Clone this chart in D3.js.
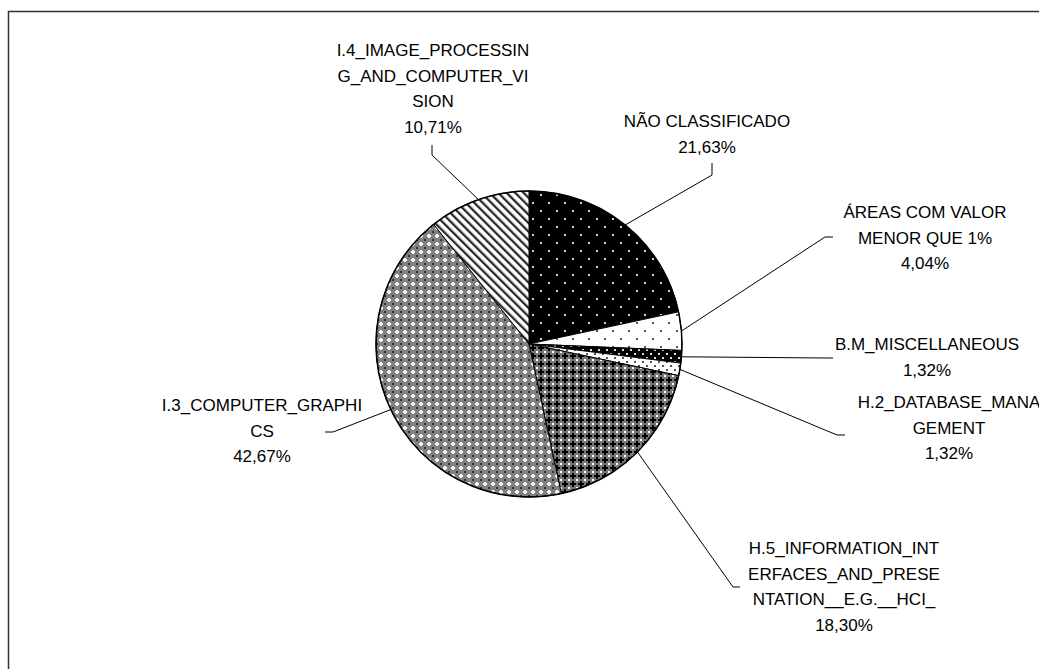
<!DOCTYPE html>
<html>
<head>
<meta charset="utf-8">
<script src="https://cdn.jsdelivr.net/npm/d3@7"></script>
<style>
  html, body { margin: 0; padding: 0; background: #fff; }
  svg { display: block; }
  text { font-family: "Liberation Sans", Arial, sans-serif; font-size: 17px; fill: #000; }
</style>
</head>
<body>
<svg id="chart" width="1039" height="669"></svg>
<script>
// ---- data ----
const categories = [
  "NÃO CLASSIFICADO",
  "ÁREAS COM VALOR MENOR QUE 1%",
  "B.M_MISCELLANEOUS",
  "H.2_DATABASE_MANAGEMENT",
  "H.5_INFORMATION_INTERFACES_AND_PRESENTATION__E.G.__HCI_",
  "I.3_COMPUTER_GRAPHICS",
  "I.4_IMAGE_PROCESSING_AND_COMPUTER_VISION"
];
const values = [21.63, 4.04, 1.32, 1.32, 18.30, 42.67, 10.71];
const valueLabels = ["21,63%", "4,04%", "1,32%", "1,32%", "18,30%", "42,67%", "10,71%"];
const labelLines = [
  ["NÃO CLASSIFICADO"],
  ["ÁREAS COM VALOR", "MENOR QUE 1%"],
  ["B.M_MISCELLANEOUS"],
  ["H.2_DATABASE_MANA", "GEMENT"],
  ["H.5_INFORMATION_INT", "ERFACES_AND_PRESE", "NTATION__E.G.__HCI_"],
  ["I.3_COMPUTER_GRAPHI", "CS"],
  ["I.4_IMAGE_PROCESSIN", "G_AND_COMPUTER_VI", "SION"]
];

// ---- layout (positions/styles) ----
const cx = 529, cy = 344, R = 153;
const lineH = 25.6;
const labelLayout = [
  { x: 707, y: 127, elbow: [712, 175], end: [712, 163] },
  { x: 925, y: 218, elbow: [825, 237], end: [833, 237] },
  { x: 927, y: 350, elbow: [825, 358], end: [833, 358] },
  { x: 949, y: 408, elbow: [837, 435], end: [845, 435] },
  { x: 844, y: 554, elbow: [733, 587], end: [740, 587] },
  { x: 262, y: 411, elbow: [333, 432], end: [325, 432] },
  { x: 433, y: 56,  elbow: [432, 155], end: [432, 145] }
];
const fills = ["url(#pNao)", "url(#pAreas)", "url(#pBM)", "url(#pH2)", "url(#pH5)", "url(#pI3)", "url(#pI4)"];

const svg = d3.select("#chart");

// ---- patterns ----
const defs = svg.append("defs");
function pat(id, w, h, transform) {
  const p = defs.append("pattern").attr("id", id).attr("patternUnits", "userSpaceOnUse")
    .attr("width", w).attr("height", h);
  if (transform) p.attr("patternTransform", transform);
  return p;
}
function px(p, x, y, w, h, c) {
  p.append("rect").attr("x", x).attr("y", y).attr("width", w).attr("height", h).attr("fill", c);
}
let p = pat("pNao", 16, 16);
px(p, 0, 0, 16, 16, "#000"); px(p, 3, 2, 2, 2, "#d0d0d0"); px(p, 11, 10, 2, 2, "#d0d0d0");
p = pat("pAreas", 16, 16);
px(p, 0, 0, 16, 16, "#fff"); px(p, 3, 2, 2, 2, "#555"); px(p, 11, 10, 2, 2, "#555");
p = pat("pBM", 8, 8);
px(p, 0, 0, 8, 8, "#000"); px(p, 1, 1, 2, 2, "#ddd"); px(p, 5, 5, 2, 2, "#ddd");
p = pat("pH2", 8, 8);
px(p, 0, 0, 8, 8, "#fff"); px(p, 1, 1, 2, 2, "#555"); px(p, 5, 5, 2, 2, "#555");
// dark cross-hatch
p = pat("pH5", 8, 8);
px(p, 0, 0, 8, 8, "#777");
px(p, 3, 1, 2, 6, "#000"); px(p, 1, 3, 6, 2, "#000");
[[0,0],[7,0],[0,7],[7,7]].forEach(([x,y]) => px(p, x, y, 1, 1, "#fff"));
// light cross-hatch
p = pat("pI3", 8, 8);
px(p, 0, 0, 8, 8, "#808080");
px(p, 3, 2, 2, 4, "#fff"); px(p, 2, 3, 4, 2, "#fff");
[[0,0],[7,0],[0,7],[7,7]].forEach(([x,y]) => px(p, x, y, 1, 1, "#333"));
px(p, 3, 3, 2, 2, "#eee");
// diagonal stripes
p = pat("pI4", 6, 6, "rotate(-45)");
px(p, 0, 0, 6, 6, "#fff"); px(p, 0, 0, 2.3, 6, "#2a2a2a");

// ---- chart area border ----
svg.append("rect").attr("x", 8.5).attr("y", 11.5).attr("width", 1200).attr("height", 1000)
  .attr("fill", "none").attr("stroke", "#333").attr("stroke-width", 1.5);

// ---- pie ----
const pie = d3.pie().sort(null).value(d => d)(values);
const arc = d3.arc().innerRadius(0).outerRadius(R);
const g = svg.append("g").attr("transform", `translate(${cx},${cy})`);
g.selectAll("path.slice").data(pie).join("path")
  .attr("class", "slice")
  .attr("d", arc)
  .attr("fill", (d, i) => fills[i])
  .attr("stroke", "#000").attr("stroke-width", 1).attr("stroke-linejoin", "round");
g.append("circle").attr("r", R).attr("fill", "none").attr("stroke", "#000").attr("stroke-width", 1.5);

// ---- leader lines ----
pie.forEach((d, i) => {
  const a = (d.startAngle + d.endAngle) / 2;
  const x0 = cx + R * Math.sin(a), y0 = cy - R * Math.cos(a);
  const L = labelLayout[i];
  svg.append("polyline")
    .attr("points", [[x0, y0], L.elbow, L.end].map(q => q.join(",")).join(" "))
    .attr("fill", "none").attr("stroke", "#000").attr("stroke-width", 1);
});

// ---- labels ----
labelLines.forEach((lines, i) => {
  const L = labelLayout[i];
  const t = svg.append("text").attr("text-anchor", "middle");
  lines.concat([valueLabels[i]]).forEach((s, k) => {
    t.append("tspan").attr("x", L.x).attr("y", L.y + k * lineH).text(s);
  });
});
</script>
</body>
</html>
